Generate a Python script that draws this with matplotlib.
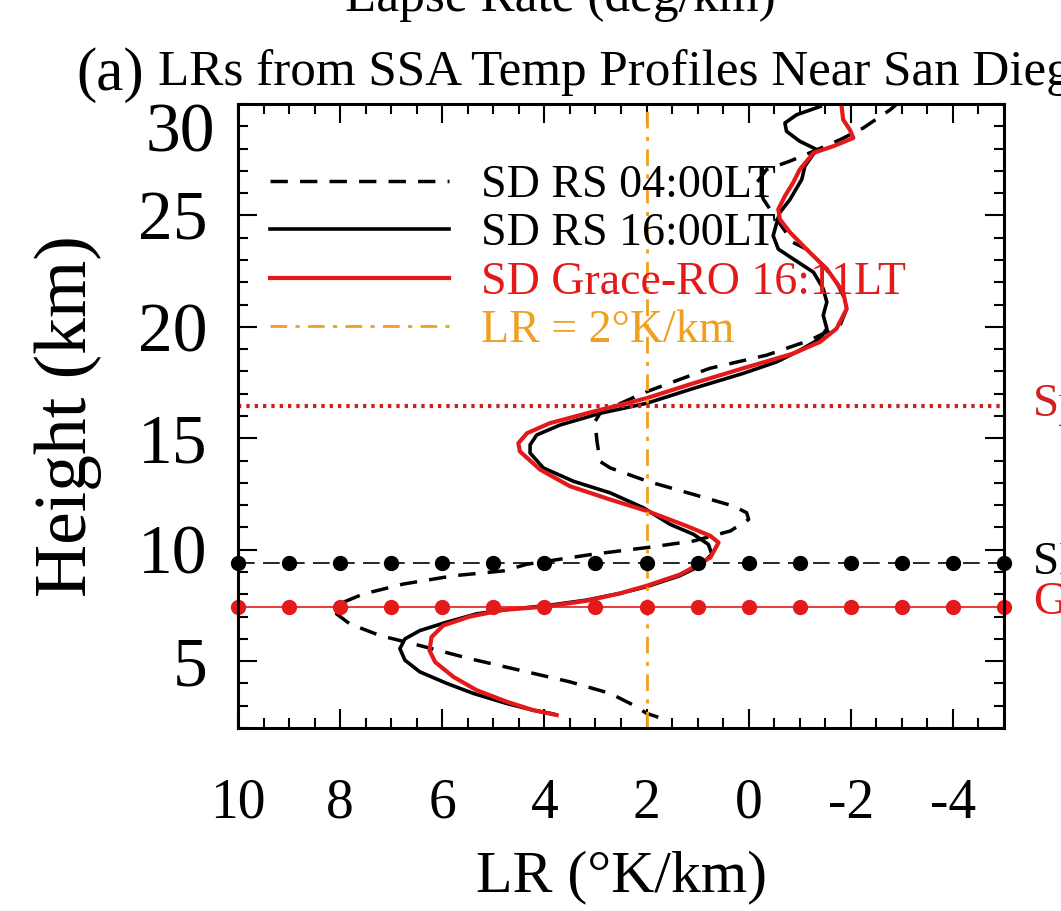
import matplotlib
matplotlib.use("Agg")
import matplotlib.pyplot as plt
from matplotlib.ticker import MultipleLocator

plt.rcParams['font.family'] = ['Liberation Serif', 'DejaVu Serif']
plt.rcParams['axes.unicode_minus'] = False

# lapse rate (K/km) vs height (km)
h_rs04 = [2.48, 2.66, 3.03, 3.55, 4.07, 4.59, 5.11, 5.70, 6.15, 6.67, 7.12, 7.64, 8.01,
          8.46, 8.83, 9.05, 9.35, 9.80, 10.10, 10.39, 10.84, 11.36, 11.66, 11.96, 12.48,
          13.07, 13.67, 13.96, 14.86, 15.75, 16.12, 16.42, 17.09, 18.14, 18.73, 19.40,
          20.07, 20.81, 21.41, 22.00, 22.75, 23.49, 23.79, 24.83, 25.72, 26.47, 27.06,
          27.44, 27.88, 28.40, 28.92, 29.74, 30.2]
lr_rs04 = [1.77, 2.00, 2.26, 2.71, 3.50, 4.48, 5.46, 6.44, 7.22, 7.81, 8.07, 7.94, 7.55,
           6.76, 5.78, 4.80, 4.34, 3.04, 1.98, 1.08, 0.36, 0.00, 0.04, 0.30, 1.08,
           1.98, 2.71, 2.91, 2.97, 3.01, 2.91, 2.65, 2.00, 0.76, -0.35, -1.20,
           -1.79, -1.92, -1.85, -1.72, -1.46, -1.13, -0.87, -0.55, -0.29, -0.16, -0.35,
           -0.81, -1.27, -1.79, -2.24, -2.77, -3.0]

h_rs16 = [2.63, 2.80, 3.10, 3.55, 4.00, 4.52, 5.04, 5.56, 6.00, 6.37, 6.75, 7.12, 7.30,
          7.49, 7.74, 8.04, 8.34, 8.83, 9.28, 9.80, 10.24, 10.69, 11.14, 11.88, 12.55,
          13.07, 13.67, 14.34, 14.71, 15.15, 15.60, 16.12, 16.57, 17.24, 17.91, 18.43,
          18.95, 19.47, 19.92, 20.52, 21.11, 21.71, 22.45, 23.05, 23.49, 24.09, 24.68,
          25.13, 25.72, 26.62, 27.21, 27.96, 28.33, 28.78, 29.15, 29.52, 29.89]
lr_rs16 = [3.83, 4.22, 4.74, 5.39, 5.91, 6.44, 6.73, 6.83, 6.73, 6.44, 5.91, 5.33, 4.80,
           3.96, 3.17, 2.52, 2.00, 1.35, 0.95, 0.72, 0.79, 1.08, 1.54, 2.06, 2.71,
           3.43, 4.02, 4.28, 4.28, 4.15, 3.69, 2.91, 2.00, 1.08, 0.11, -0.55,
           -1.00, -1.40, -1.53, -1.46, -1.53, -1.46, -1.27, -0.87, -0.58, -0.48, -0.55,
           -0.61, -0.81, -1.04, -1.10, -1.33, -1.00, -0.74, -0.71, -0.94, -1.40]

h_ro = [2.58, 2.80, 3.18, 3.70, 4.29, 4.96, 5.48, 6.08, 6.60, 7.00, 7.30, 7.45, 7.71,
        8.04, 8.38, 8.88, 9.05, 9.65, 10.32, 10.62, 11.06, 11.73, 12.25, 12.85, 13.59,
        14.41, 14.78, 15.23, 15.68, 16.20, 16.57, 16.80, 17.47, 18.14, 18.80, 19.33,
        19.92, 20.81, 21.56, 22.60, 23.49, 24.24, 24.83, 25.28, 25.87, 26.47, 27.06,
        27.81, 28.11, 28.48, 28.85, 29.30, 29.89]
lr_ro = [3.76, 4.22, 4.74, 5.33, 5.78, 6.14, 6.25, 6.21, 5.98, 5.46, 4.80, 3.96, 3.17,
         2.52, 2.00, 1.35, 1.21, 0.75, 0.59, 0.75, 1.21, 1.98, 2.71, 3.50, 4.08,
         4.48, 4.51, 4.34, 3.89, 3.04, 2.39, 2.00, 1.08, 0.11, -0.87, -1.40,
         -1.72, -1.92, -1.85, -1.53, -1.13, -0.81, -0.61, -0.58, -0.71, -0.87, -1.00,
         -1.27, -1.66, -2.05, -1.98, -1.85, -1.82]

lr_ref = 2.0
h_sp = 16.47      # red dotted level
h_rs_tp = 9.42    # black dashed level with dots
h_ro_tp = 7.41    # red level with dots
dot_x = list(range(10, -6, -1))

xticks = [10, 8, 6, 4, 2, 0, -2, -4]
yticks = [5, 10, 15, 20, 25]

fig = plt.figure(figsize=(10.61, 9.11), dpi=100)
ax = fig.add_axes([0.2243, 0.2009, 0.7220, 0.6849])

ax.plot(lr_rs04, h_rs04, color='black', lw=2.5, ls=(0, (5, 3.5)), label='SD RS 04:00LT')
ax.plot(lr_rs16, h_rs16, color='black', lw=2.6, label='SD RS 16:00LT')
ax.plot(lr_ro, h_ro, color='#e41a1a', lw=3.0, label='SD Grace-RO 16:11LT')
ax.axvline(lr_ref, color='#f0a020', lw=2, ls=(0, (6, 3, 1.5, 3)), label='LR = 2°K/km')

ax.axhline(h_sp, color='#cc2222', lw=3, ls=(0, (0.8, 1.2)))
ax.plot(dot_x, [h_rs_tp] * len(dot_x), color='black', lw=1.2, ls=(0, (10, 5)),
        marker='o', ms=10, clip_on=False)
ax.plot(dot_x, [h_ro_tp] * len(dot_x), color='#e41a1a', lw=1.2,
        marker='o', ms=10, clip_on=False)

ax.set_xlim(10, -5)
ax.set_ylim(2, 30)
ax.set_xticks(xticks)
ax.set_xticklabels([str(v) for v in xticks])
ax.xaxis.set_minor_locator(MultipleLocator(0.5))
ax.set_yticks(yticks)
ax.set_yticklabels([str(v) for v in yticks])
ax.yaxis.set_minor_locator(MultipleLocator(1))
ax.tick_params(which='both', direction='in', top=True, right=True, width=1.5)
ax.tick_params(which='major', length=14)
ax.tick_params(which='minor', length=7)
ax.tick_params(axis='x', labelsize=40, pad=36)
ax.tick_params(axis='y', labelsize=50, pad=22)
for s in ax.spines.values():
    s.set_linewidth(2.2)

# the top label sits lower than its tick in the original
ax.text(-0.03, 28.6, '30', transform=ax.get_yaxis_transform(), fontsize=50,
        ha='right', va='center')

ax.set_xlabel('LR (°K/km)', fontsize=43, labelpad=15)
ax.set_ylabel('Height (km)', fontsize=53, labelpad=26)

leg = ax.legend(loc='upper left', frameon=False, fontsize=33, handlelength=3.9,
                handletextpad=0.7, labelspacing=0.13, borderaxespad=0.3,
                bbox_to_anchor=(0.0, 0.955))
for txt, c in zip(leg.get_texts(), ['black', 'black', '#e41a1a', '#f0a020']):
    txt.set_color(c)

# labels to the right, cut by the frame edge as in the original
fig.text(1033 / 1061, 1 - 405 / 911, 'Sp', color='#cc2222', fontsize=34, va='center')
fig.text(1033 / 1061, 1 - 563 / 911, 'SD RS', color='black', fontsize=34, va='center')
fig.text(1033 / 1061, 1 - 603 / 911, 'GRO', color='#e41a1a', fontsize=34, va='center')

fig.text(158 / 1061, 1 - 85 / 911, 'LRs from SSA Temp Profiles Near San Diego',
         fontsize=36.8, va='baseline')
fig.text(76 / 1061, 1 - 90 / 911, '(a)', fontsize=44, va='baseline')
fig.text(560 / 1061, 1 - 11 / 911, 'Lapse Rate (deg/km)', fontsize=37,
         ha='center', va='baseline')

fig.savefig('out.png', dpi=100)
